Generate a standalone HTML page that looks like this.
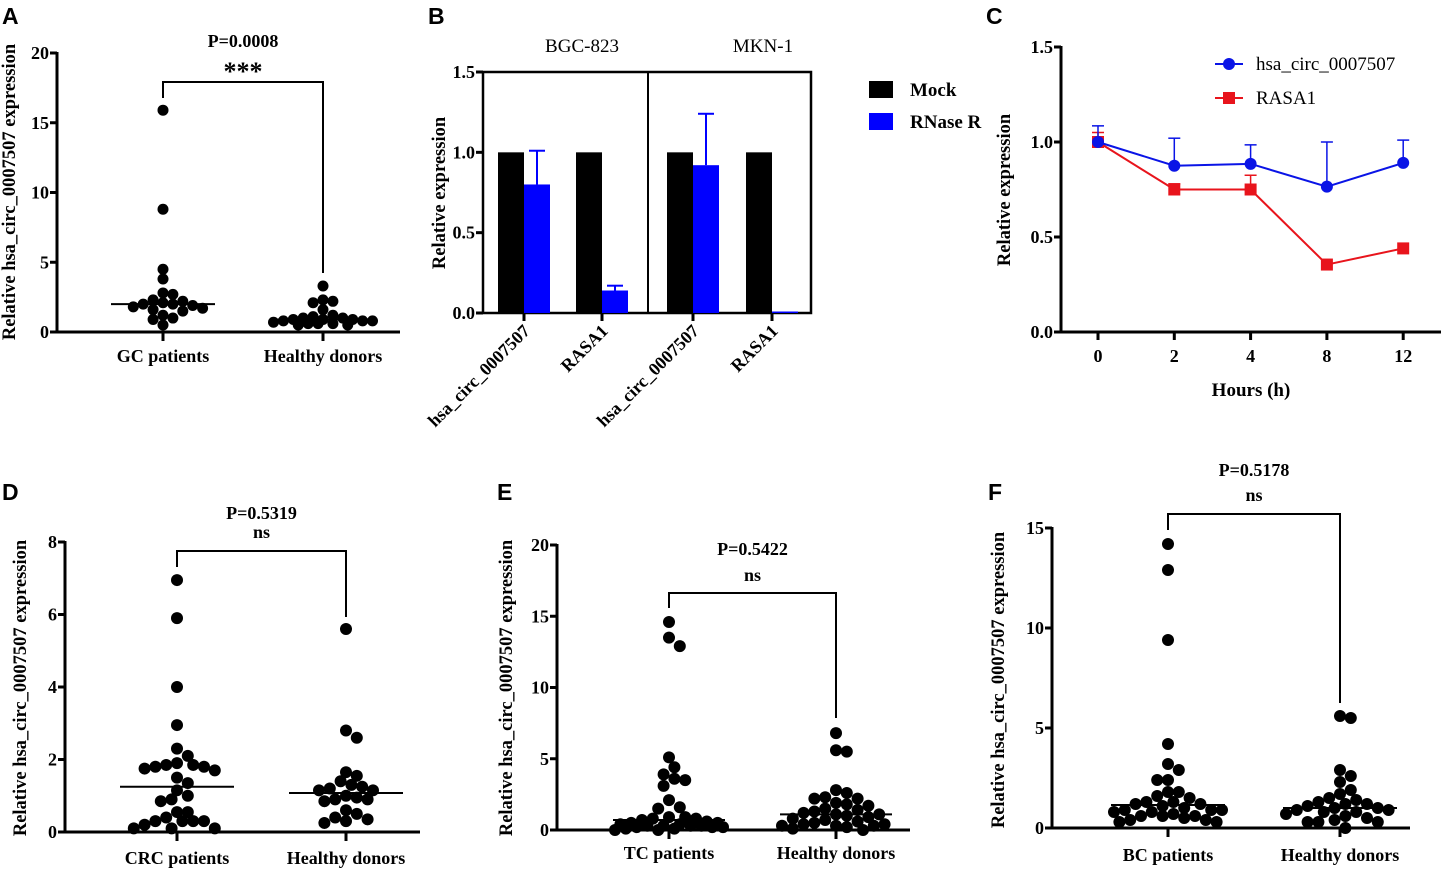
<!DOCTYPE html>
<html><head><meta charset="utf-8"><style>
html,body{margin:0;padding:0;background:#fff;}
svg{display:block;}
text{font-family:"Liberation Serif",serif;font-weight:bold;fill:#000;}
text.nb{font-weight:normal;}
.lt{font-family:"Liberation Sans",sans-serif;font-weight:bold;font-size:23px;}
.tk{font-size:18px;}
.ax{stroke:#000;stroke-width:3;fill:none;}
</style></head><body>
<svg id="fig" width="1456" height="869" viewBox="0 0 1456 869" xmlns="http://www.w3.org/2000/svg"></svg>
<script>
// ---- Panel A data ----
const aCats = ["GC patients", "Healthy donors"];
const aGC = [15.9, 8.8, 4.5, 3.8, 2.8, 2.7, 2.3, 2.2, 2.1, 2.0, 2.0, 1.9, 1.8, 1.7, 1.6, 1.5, 1.2, 1.0, 0.9, 0.5];
const aHD = [3.3, 2.3, 2.2, 2.1, 1.6, 1.2, 1.1, 1.0, 1.0, 0.9, 0.9, 0.9, 0.8, 0.8, 0.8, 0.7, 0.6, 0.6, 0.6, 0.5, 0.5];
const aTicks = [0, 5, 10, 15, 20];
// ---- Panel D data ----
const dCats = ["CRC patients", "Healthy donors"];
const dCRC = [6.95, 5.9, 4.0, 2.95, 2.3, 2.1, 1.9, 1.85, 1.85, 1.8, 1.8, 1.75, 1.7, 1.5, 1.35, 1.15, 1.0, 0.9, 0.85, 0.55, 0.55, 0.4, 0.3, 0.3, 0.3, 0.3, 0.2, 0.1, 0.1, 0.1];
const dHD = [5.6, 2.8, 2.6, 1.65, 1.55, 1.4, 1.3, 1.25, 1.2, 1.15, 1.15, 1.0, 0.95, 0.9, 0.9, 0.85, 0.6, 0.5, 0.4, 0.35, 0.3, 0.25];
const dTicks = [0, 2, 4, 6, 8];
// ---- Panel E data ----
const eCats = ["TC patients", "Healthy donors"];
const eTC = [14.6, 13.5, 12.9, 5.1, 4.4, 3.9, 3.6, 3.5, 3.1, 2.1, 1.6, 1.5, 0.9, 0.9, 0.8, 0.8, 0.7, 0.6, 0.5, 0.5, 0.4, 0.4, 0.3, 0.3, 0.3, 0.2, 0.2, 0.1, 0.0, 0.0, 0.1, 0.2, 0.3];
const eHD = [6.8, 5.6, 5.5, 2.8, 2.6, 2.3, 2.2, 2.2, 1.9, 1.8, 1.7, 1.5, 1.4, 1.3, 1.2, 1.1, 1.1, 1.0, 0.9, 0.8, 0.7, 0.6, 0.5, 0.4, 0.4, 0.3, 0.3, 0.3, 0.2, 0.1, 0.0];
const eTicks = [0, 5, 10, 15, 20];
// ---- Panel F data ----
const fCats = ["BC patients", "Healthy donors"];
const fBC = [14.2, 12.9, 9.4, 4.2, 3.2, 2.9, 2.4, 2.4, 1.8, 1.8, 1.6, 1.5, 1.3, 1.3, 1.2, 1.2, 1.1, 1.0, 0.9, 0.9, 0.9, 0.8, 0.8, 0.7, 0.6, 0.6, 0.6, 0.5, 0.4, 0.4, 0.3, 0.3];
const fHD = [5.6, 5.5, 2.9, 2.6, 2.3, 1.9, 1.7, 1.5, 1.4, 1.3, 1.2, 1.2, 1.1, 1.0, 1.0, 0.9, 0.9, 0.8, 0.8, 0.7, 0.6, 0.5, 0.4, 0.3, 0.3, 0.3, 0.0];
const fTicks = [0, 5, 10, 15];
// ---- Panel B data ----
const bGenes = ["hsa_circ_0007507", "RASA1", "hsa_circ_0007507", "RASA1"];
const bMock = [1, 1, 1, 1];
const bRnase = [0.8, 0.14, 0.92, 0.005];
const bRnaseErr = [0.21, 0.03, 0.32, 0];
const bTicks = [0, 0.5, 1.0, 1.5];
// ---- Panel C data ----
const cHours = ["0", "2", "4", "8", "12"];
const cCirc = [1.0, 0.875, 0.885, 0.765, 0.89];
const cCircErr = [0.085, 0.145, 0.1, 0.235, 0.12];
const cRasa = [1.0, 0.75, 0.75, 0.355, 0.44];
const cRasaErr = [0.05, 0.03, 0.075, 0, 0];
const cTicks = [0, 0.5, 1.0, 1.5];

const NS = "http://www.w3.org/2000/svg";
const svg = document.getElementById("fig");
function el(tag, attrs, parent, txt) {
  const e = document.createElementNS(NS, tag);
  for (const k in attrs) e.setAttribute(k, attrs[k]);
  if (txt !== undefined) e.textContent = txt;
  (parent || svg).appendChild(e);
  return e;
}
function lin(d0, d1, r0, r1) { return v => r0 + (v - d0) * (r1 - r0) / (d1 - d0); }
function fmt(v) { return String(v); }

function beeswarm(vals, y, cx, r, maxW) {
  const order = vals.map((v, i) => i).sort((a, b) => vals[b] - vals[a]);
  const placed = [];
  const out = [];
  const step = r * 0.9;
  order.forEach(i => {
    const py = y(vals[i]);
    let best = null, bestScore = -1, bestX = cx;
    const nmax = Math.floor(maxW / step);
    for (let k = 0; k <= nmax && best === null; k++) {
      for (const s of (k === 0 ? [0] : [k, -k])) {
        const px = cx + s * step;
        let md = Infinity;
        placed.forEach(p => { md = Math.min(md, Math.hypot(p[0] - px, p[1] - py)); });
        if (md >= 2 * r * 0.85) { best = px; break; }
        if (md > bestScore) { bestScore = md; bestX = px; }
      }
    }
    if (best === null) best = bestX;
    placed.push([best, py]);
    out.push([best, py]);
  });
  return out;
}

function dotPanel(o) {
  const g = el("g", {});
  
  
  const y = lin(0, o.ticks[o.ticks.length - 1], o.y0, o.yTop);
  el("line", { x1: o.ax, y1: o.yTop - 1, x2: o.ax, y2: o.y0 + 1.5, class: "ax" }, g);
  el("line", { x1: o.ax, y1: o.y0, x2: o.xEnd, y2: o.y0, class: "ax" }, g);
  o.ticks.forEach(t => {
    el("line", { x1: o.ax - 7, y1: y(t), x2: o.ax, y2: y(t), class: "ax" }, g);
    const tx = el("text", { x: o.ax - 8, y: y(t) + 6, "text-anchor": "end", class: "tk" }, g, fmt(t));
    
    
  });
  const yl = el("text", { x: 0, y: 0, "text-anchor": "middle", "font-size": 18.5, transform: `translate(${o.ylx},${o.yly}) rotate(-90)` }, g, "Relative hsa_circ_0007507 expression");
  
  
  o.groups.forEach((grp, gi) => {
    const cx = o.cx[gi];
    el("line", { x1: cx, y1: o.y0, x2: cx, y2: o.y0 + 9, class: "ax" }, g);
    const cl = el("text", { x: cx, y: o.labY, "text-anchor": "middle", "font-size": 18 }, g, o.cats[gi]);
    
    
    beeswarm(grp, y, cx, o.r, o.mw).forEach(p => {
      const c = el("circle", { cx: p[0], cy: p[1], r: o.r, fill: "#000" }, g);
      
      
    });
    const sorted = grp.slice().sort((a, b) => a - b);
    const med = sorted.length % 2 ? sorted[(sorted.length - 1) / 2] : (sorted[sorted.length / 2 - 1] + sorted[sorted.length / 2]) / 2;
    const ml = el("line", { x1: cx - o.mw, y1: y(med), x2: cx + o.mw, y2: y(med), stroke: "#000", "stroke-width": 2 }, g);
    
    
  });
  const br = el("polyline", { points: `${o.cx[0]},${o.bl} ${o.cx[0]},${o.bt} ${o.cx[1]},${o.bt} ${o.cx[1]},${o.br}`, fill: "none", stroke: "#000", "stroke-width": 2 }, g);
  
  
  const mid = (o.cx[0] + o.cx[1]) / 2;
  const pt = el("text", { x: mid, y: o.pY, "text-anchor": "middle", "font-size": 18 }, g, o.p);
  
  
  const st = el("text", { x: mid, y: o.sY, "text-anchor": "middle", "font-size": o.sSize || 18 }, g, o.sig);
  
  
  const lt = el("text", { x: o.lx, y: o.ly, class: "lt" }, g, o.letter);
  
  
}

dotPanel({ name: "panel-a", letter: "A", lx: 2, ly: 24, ax: 57, y0: 332, yTop: 53, xEnd: 400, ticks: aTicks, cx: [163, 323], groups: [aGC, aHD], cats: aCats, r: 5.5, mw: 52, labY: 362, ylx: 15, yly: 192, bt: 82, bl: 98, br: 273, p: "P=0.0008", pY: 47, sig: "***", sY: 80, sSize: 26 });
dotPanel({ name: "panel-d", letter: "D", lx: 2, ly: 500, ax: 65, y0: 832, yTop: 542, xEnd: 420, ticks: dTicks, cx: [177, 346], groups: [dCRC, dHD], cats: dCats, r: 6, mw: 57, labY: 864, ylx: 26, yly: 688, bt: 551, bl: 567, br: 617, p: "P=0.5319", pY: 519, sig: "ns", sY: 538 });
dotPanel({ name: "panel-e", letter: "E", lx: 497, ly: 500, ax: 557, y0: 830, yTop: 545, xEnd: 910, ticks: eTicks, cx: [669, 836], groups: [eTC, eHD], cats: eCats, r: 6, mw: 56, labY: 859, ylx: 512, yly: 688, bt: 593, bl: 608, br: 718, p: "P=0.5422", pY: 555, sig: "ns", sY: 581 });
dotPanel({ name: "panel-f", letter: "F", lx: 988, ly: 500, ax: 1052, y0: 828, yTop: 528, xEnd: 1410, ticks: fTicks, cx: [1168, 1340], groups: [fBC, fHD], cats: fCats, r: 6, mw: 57, labY: 861, ylx: 1004, yly: 680, bt: 514, bl: 530, br: 703, p: "P=0.5178", pY: 476, sig: "ns", sY: 501 });

// ---- Panel B ----
(function () {
  const g = el("g", {});
  
  
  const y = lin(0, 1.5, 313, 72);
  const ax = 483, right = 811, divider = 648;
  const centers = [524, 602, 693, 772], bw = 26;
  const lt = el("text", { x: 428, y: 24, class: "lt" }, g, "B");
  
  
  el("rect", { x: ax, y: 72, width: right - ax, height: 313 - 72, fill: "none", stroke: "#000", "stroke-width": 2.5 }, g);
  el("line", { x1: divider, y1: 72, x2: divider, y2: 313, stroke: "#000", "stroke-width": 2 }, g);
  bTicks.forEach(t => {
    el("line", { x1: ax - 7, y1: y(t), x2: ax, y2: y(t), class: "ax" }, g);
    el("text", { x: ax - 8, y: y(t) + 6, "text-anchor": "end", class: "tk" }, g, t.toFixed(1));
  });
  const yl = el("text", { x: 0, y: 0, "text-anchor": "middle", "font-size": 18.5, transform: `translate(445,193) rotate(-90)` }, g, "Relative expression");
  
  
  const t1 = el("text", { x: 582, y: 52, "text-anchor": "middle", "font-size": 19, class: "nb" }, g, "BGC-823");
  
  
  const t2 = el("text", { x: 763, y: 52, "text-anchor": "middle", "font-size": 19, class: "nb" }, g, "MKN-1");
  
  
  centers.forEach((c, i) => {
    const m = el("rect", { x: c - bw, y: y(bMock[i]), width: bw, height: 313 - y(bMock[i]), fill: "#000" }, g);
    
    
    const h = Math.max(1.5, 313 - y(bRnase[i]));
    const rr = el("rect", { x: c, y: 313 - h, width: bw, height: h, fill: "#0000ff" }, g);
    
    
    if (bRnaseErr[i] > 0) {
      const top = y(bRnase[i] + bRnaseErr[i]);
      el("line", { x1: c + bw / 2, y1: y(bRnase[i]), x2: c + bw / 2, y2: top, stroke: "#0000ff", "stroke-width": 2 }, g);
      el("line", { x1: c + bw / 2 - 8, y1: top, x2: c + bw / 2 + 8, y2: top, stroke: "#0000ff", "stroke-width": 2 }, g);
    }
    el("line", { x1: c, y1: 313, x2: c, y2: 321, class: "ax" }, g);
    const lab = el("text", { x: 0, y: 0, "text-anchor": "end", "font-size": 18, transform: `translate(${c + 7},${332}) rotate(-45)` }, g, bGenes[i]);
    
    
  });
  const l1 = el("rect", { x: 869, y: 81, width: 24, height: 17, fill: "#000" }, g);
  
  
  el("text", { x: 910, y: 96, "font-size": 19 }, g, "Mock");
  const l2 = el("rect", { x: 869, y: 113, width: 24, height: 17, fill: "#0000ff" }, g);
  
  
  el("text", { x: 910, y: 128, "font-size": 19 }, g, "RNase R");
})();

// ---- Panel C ----
(function () {
  const g = el("g", {});
  
  
  const y = lin(0, 1.5, 332, 47);
  const ax = 1061;
  const x = i => 1098 + i * 76.3;
  const lt = el("text", { x: 986, y: 24, class: "lt" }, g, "C");
  
  
  el("line", { x1: ax, y1: 46, x2: ax, y2: 333.5, class: "ax" }, g);
  el("line", { x1: ax, y1: 332, x2: 1441, y2: 332, class: "ax" }, g);
  cTicks.forEach(t => {
    el("line", { x1: ax - 7, y1: y(t), x2: ax, y2: y(t), class: "ax" }, g);
    el("text", { x: ax - 8, y: y(t) + 6, "text-anchor": "end", class: "tk" }, g, t.toFixed(1));
  });
  cHours.forEach((h, i) => {
    el("line", { x1: x(i), y1: 332, x2: x(i), y2: 340, class: "ax" }, g);
    el("text", { x: x(i), y: 362, "text-anchor": "middle", class: "tk" }, g, h);
  });
  const xt = el("text", { x: 1251, y: 396, "text-anchor": "middle", "font-size": 19 }, g, "Hours (h)");
  
  
  const yl = el("text", { x: 0, y: 0, "text-anchor": "middle", "font-size": 18.5, transform: `translate(1010,190) rotate(-90)` }, g, "Relative expression");
  
  
  function series(vals, errs, color, marker, name) {
    vals.forEach((v, i) => {
      if (errs[i] > 0) {
        el("line", { x1: x(i), y1: y(v), x2: x(i), y2: y(v + errs[i]), stroke: color, "stroke-width": 1.5 }, g);
        el("line", { x1: x(i) - 6, y1: y(v + errs[i]), x2: x(i) + 6, y2: y(v + errs[i]), stroke: color, "stroke-width": 1.5 }, g);
      }
    });
    const pl = el("polyline", { points: vals.map((v, i) => `${x(i)},${y(v)}`).join(" "), fill: "none", stroke: color, "stroke-width": 2 }, g);
    
    
    vals.forEach((v, i) => {
      let m;
      if (marker === "c") m = el("circle", { cx: x(i), cy: y(v), r: 6, fill: color }, g);
      else m = el("rect", { x: x(i) - 6, y: y(v) - 6, width: 12, height: 12, fill: color }, g);
      
      
    });
  }
  series(cRasa, cRasaErr, "#e8141c", "s", "rasa1");
  series(cCirc, cCircErr, "#0a14e6", "c", "hsa-circ");
  el("line", { x1: 1215, y1: 64, x2: 1243, y2: 64, stroke: "#0a14e6", "stroke-width": 2 }, g);
  el("circle", { cx: 1229, cy: 64, r: 6, fill: "#0a14e6" }, g);
  const le1 = el("text", { x: 1256, y: 70, "font-size": 19, class: "nb" }, g, "hsa_circ_0007507");
  
  
  el("line", { x1: 1215, y1: 98, x2: 1243, y2: 98, stroke: "#e8141c", "stroke-width": 2 }, g);
  el("rect", { x: 1223, y: 92, width: 12, height: 12, fill: "#e8141c" }, g);
  const le2 = el("text", { x: 1256, y: 104, "font-size": 19, class: "nb" }, g, "RASA1");
  
  
})();
</script>
</body></html>
